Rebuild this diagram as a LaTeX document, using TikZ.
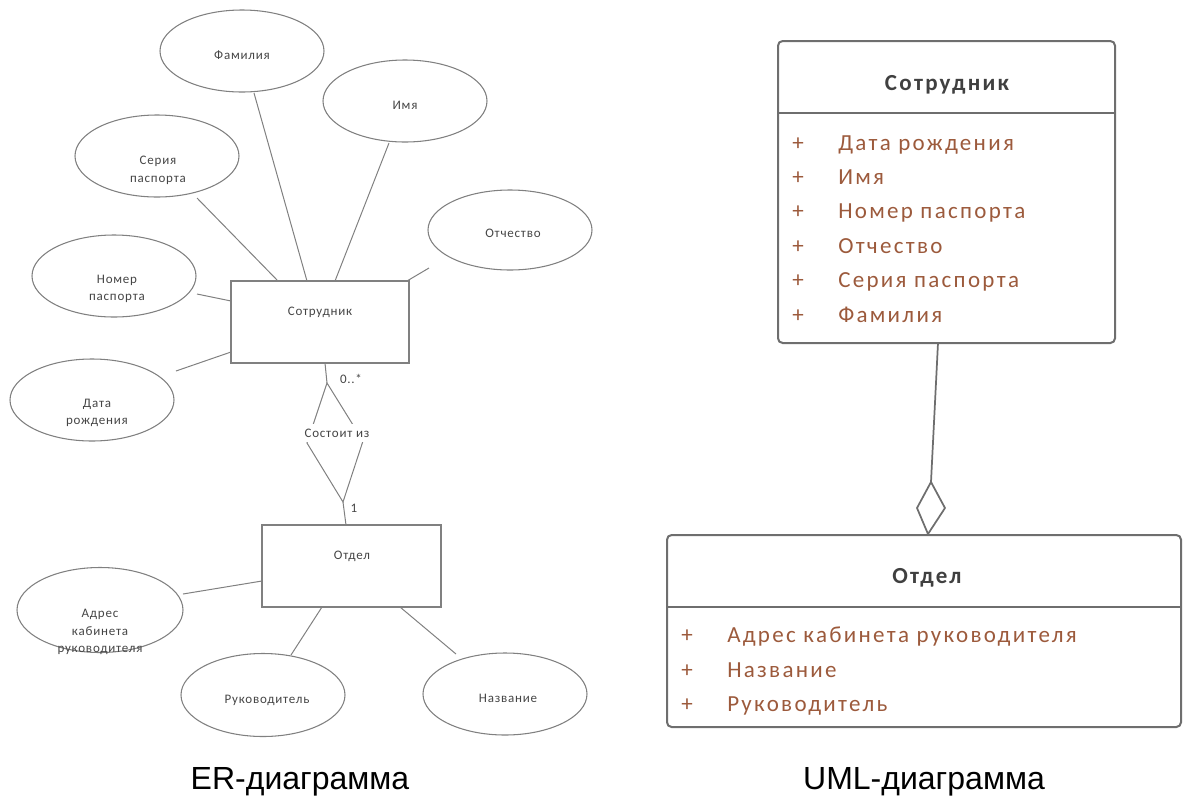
\documentclass[tikz,border=0pt]{standalone}
\usepackage{fontspec}
\setmainfont{Carlito}
\newfontfamily\erfont[LetterSpace=6]{Carlito}
\newfontfamily\umlfont[LetterSpace=10]{Carlito}
\newfontfamily\capfont{Liberation Sans}
\usetikzlibrary{shapes.geometric}
\definecolor{cErLine}{HTML}{808080}
\definecolor{cErText}{HTML}{454545}
\definecolor{cUmlLine}{HTML}{6E6E6E}
\definecolor{cUmlTitle}{HTML}{404040}
\definecolor{cUmlAttr}{HTML}{9C5A3C}
\tikzset{
  erell/.style={ellipse, draw=cErLine, line width=0.8pt, inner sep=0pt},
  erent/.style={rectangle, draw=cErLine, line width=0.8pt, inner sep=0pt},
  ertxt/.style={text=cErText, font=\erfont\fontsize{9.75}{13.3}\selectfont, align=center, inner sep=0pt},
  erconn/.style={draw=cErLine, line width=0.75pt},
  umlbox/.style={rectangle, rounded corners=3.5pt, draw=cUmlLine, line width=1.5pt, inner sep=0pt},
  umlconn/.style={draw=cUmlLine, line width=1.3pt},
  umlhead/.style={text=cUmlTitle, font=\umlfont\bfseries\fontsize{17.25}{20}\selectfont, inner sep=0pt, anchor=base},
  umlattr/.style={text=cUmlAttr, font=\umlfont\fontsize{17.25}{20}\selectfont, inner sep=0pt, anchor=base west},
  umlplus/.style={text=cUmlAttr, font=\umlfont\fontsize{17.25}{20}\selectfont, inner sep=0pt, anchor=base},
  captiontxt/.style={font=\capfont\fontsize{24}{28}\selectfont, text=black, inner sep=0pt, anchor=base}
}
\begin{document}
\begin{tikzpicture}[x=0.75pt,y=-0.75pt]
\path[use as bounding box] (0,0) rectangle (1183,797);

% ---------------- ER diagram ----------------
\node[erent, minimum width=178*0.75pt, minimum height=82*0.75pt] (emp) at (320,322) {};
\node[ertxt] (empT) at (320,312) {Сотрудник};
\node[erent, minimum width=179*0.75pt, minimum height=82*0.75pt] (dep) at (351.5,566) {};
\node[ertxt] (depT) at (352,556) {Отдел};

\node[erell, minimum width=164*0.75pt, minimum height=82*0.75pt] (fam) at (242,51) {};
\node[ertxt] (famT) at (242,55) {Фамилия};
\node[erell, minimum width=164*0.75pt, minimum height=82*0.75pt] (imya) at (405,101) {};
\node[ertxt] (imyaT) at (405,105) {Имя};
\node[erell, minimum width=164*0.75pt, minimum height=82*0.75pt] (ser) at (157,156) {};
\node[ertxt] (serT) at (158,170) {Серия\\паспорта};
\node[erell, minimum width=164*0.75pt, minimum height=82*0.75pt] (nom) at (114,276) {};
\node[ertxt] (nomT) at (117,289) {Номер\\паспорта};
\node[erell, minimum width=164*0.75pt, minimum height=82*0.75pt] (dat) at (92,400) {};
\node[ertxt] (datT) at (97,413) {Дата\\рождения};
\node[erell, minimum width=164*0.75pt, minimum height=80*0.75pt] (otch) at (510,230) {};
\node[ertxt] (otchT) at (513,233) {Отчество};
\node[erell, minimum width=166*0.75pt, minimum height=85*0.75pt] (adr) at (100,610) {};
\node[ertxt] (adrT) at (100,632) {Адрес\\кабинета\\руководителя};
\node[erell, minimum width=164*0.75pt, minimum height=83*0.75pt] (ruk) at (263,695) {};
\node[ertxt] (rukT) at (267,700) {Руководитель};
\node[erell, minimum width=164*0.75pt, minimum height=82*0.75pt] (naz) at (505,694) {};
\node[ertxt] (nazT) at (508,698) {Название};

% attribute connectors
\coordinate (serE) at (197,198);  \coordinate (empA) at (278,281);
\coordinate (famE) at (254,93);   \coordinate (empB) at (307,281);
\coordinate (imyaE) at (389,143); \coordinate (empC) at (335,281);
\coordinate (otchE) at (429,268); \coordinate (empD) at (407,281);
\coordinate (nomE) at (197,294);  \coordinate (empE) at (231,301);
\coordinate (datE) at (176,371);  \coordinate (empF) at (231,352);
\coordinate (adrE) at (183,594);  \coordinate (depA) at (262,581);
\coordinate (rukE) at (291,655);  \coordinate (depB) at (322,607);
\coordinate (nazE) at (456,654);  \coordinate (depC) at (400,607);
\draw[erconn] (serE) -- (empA);
\draw[erconn] (famE) -- (empB);
\draw[erconn] (imyaE) -- (empC);
\draw[erconn] (otchE) -- (empD);
\draw[erconn] (nomE) -- (empE);
\draw[erconn] (datE) -- (empF);
\draw[erconn] (adrE) -- (depA);
\draw[erconn] (rukE) -- (depB);
\draw[erconn] (nazE) -- (depC);

% relationship
\coordinate (r0) at (325,363);
\coordinate (rt) at (327,383);
\coordinate (rl) at (307,443);
\coordinate (rr) at (363,441);
\coordinate (rb) at (343,502);
\coordinate (r1) at (346,525);
\draw[erconn] (r0) -- (rt);
\draw[erconn] (rt) -- (rl) -- (rb) -- (rr) -- cycle;
\draw[erconn] (rb) -- (r1);
\node[ertxt, fill=white, inner xsep=1pt, inner ysep=3.5pt] (rel) at (337,433) {Состоит из};
\node[ertxt] (m1) at (351,379) {0..*};
\node[ertxt] (m2) at (354,508) {1};

% ---------------- UML diagram ----------------
\node[umlbox, minimum width=337*0.75pt, minimum height=302*0.75pt] (cls1) at (946.5,192) {};
\coordinate (s1) at (946.5,113);
\draw[umlconn] (cls1.west |- s1) -- (cls1.east |- s1);
\node[umlhead] (cls1T) at (947,90) {Сотрудник};
\node[umlplus] (p11) at (798,150) {+}; \node[umlattr] (a11) at (838,150) {Дата рождения};
\node[umlplus] (p12) at (798,184) {+}; \node[umlattr] (a12) at (838,184) {Имя};
\node[umlplus] (p13) at (798,218) {+}; \node[umlattr] (a13) at (838,218) {Номер паспорта};
\node[umlplus] (p14) at (798,253) {+}; \node[umlattr] (a14) at (838,253) {Отчество};
\node[umlplus] (p15) at (798,287) {+}; \node[umlattr] (a15) at (838,287) {Серия паспорта};
\node[umlplus] (p16) at (798,322) {+}; \node[umlattr] (a16) at (838,322) {Фамилия};

\node[umlbox, minimum width=514*0.75pt, minimum height=192*0.75pt] (cls2) at (924,631) {};
\coordinate (s2) at (924,607);
\draw[umlconn] (cls2.west |- s2) -- (cls2.east |- s2);
\node[umlhead] (cls2T) at (927,583) {Отдел};
\node[umlplus] (p21) at (687,642) {+}; \node[umlattr] (a21) at (727,642) {Адрес кабинета руководителя};
\node[umlplus] (p22) at (687,677) {+}; \node[umlattr] (a22) at (727,677) {Название};
\node[umlplus] (p23) at (687,711) {+}; \node[umlattr] (a23) at (727,711) {Руководитель};

% aggregation
\coordinate (ag0) at (938,343);
\coordinate (dt) at (931,482);
\coordinate (dr) at (945,508);
\coordinate (db) at (928,534);
\coordinate (dl) at (917,508);
\draw[umlconn] (ag0) -- (dt);
\draw[umlconn, fill=white, line join=round] (dt) -- (dr) -- (db) -- (dl) -- cycle;

% captions
\node[captiontxt] (capER) at (300,789) {ER-диаграмма};
\node[captiontxt] (capUML) at (924,789) {UML-диаграмма};
\end{tikzpicture}
\end{document}
